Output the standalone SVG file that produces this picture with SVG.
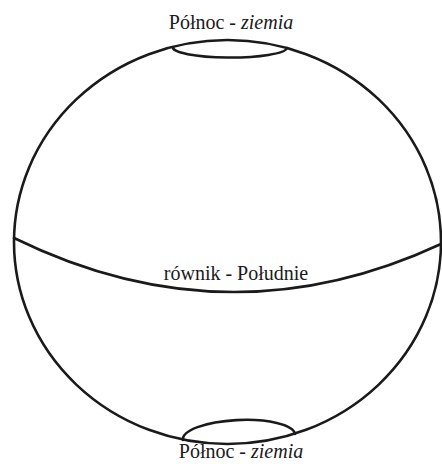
<svg xmlns="http://www.w3.org/2000/svg" width="442" height="464" viewBox="0 0 442 464">
<style>
.ln{fill:none;stroke:#1a1a1a;stroke-width:2.6;stroke-linecap:round}
.t{font-family:"Liberation Serif","Times New Roman",serif;font-size:20px;fill:#1a1a1a;text-anchor:middle}
.i{font-style:italic}
</style>
<rect width="442" height="464" fill="#fff"/>
<g id="sphere">
<ellipse class="ln" cx="227.5" cy="242" rx="213.5" ry="202"/>
</g>
<g id="north-cap">
<path class="ln" d="M173,47 A57,10 0 0 0 287,48"/>
</g>
<g id="south-cap">
<path class="ln" d="M183,440 A56,17 -2.5 0 1 295,434"/>
</g>
<g id="equator">
<path class="ln" d="M14,238 Q228,343 441,244"/>
</g>
<g id="labels">
<text class="t" x="231" y="29">Północ - <tspan class="i">ziemia</tspan></text>
<text class="t" x="236" y="280">równik - Południe</text>
<text class="t" x="241" y="458" font-size="19">Północ - <tspan class="i">ziemia</tspan></text>
</g>
</svg>
